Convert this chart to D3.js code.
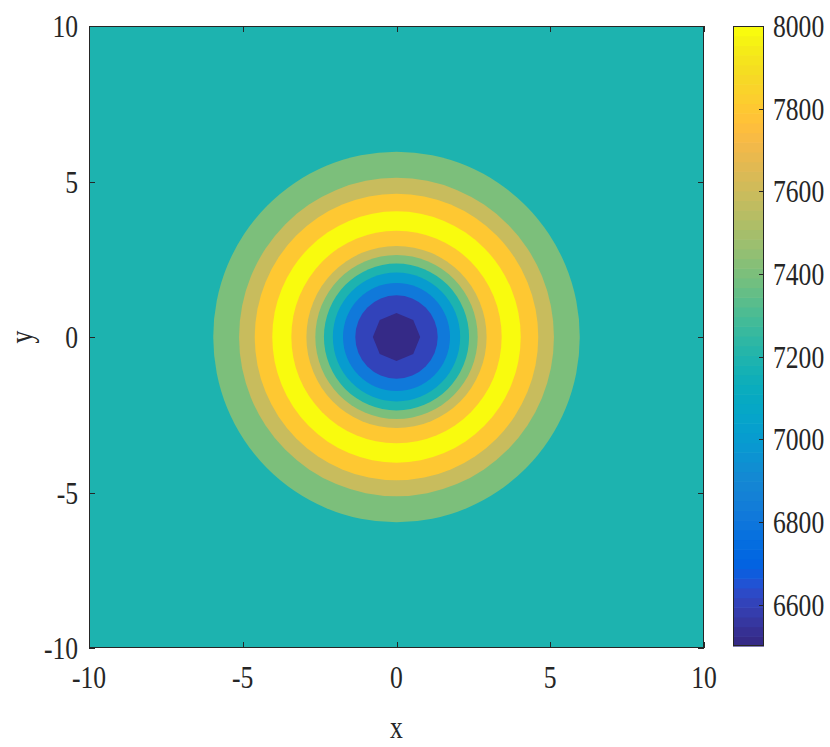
<!DOCTYPE html>
<html>
<head>
<meta charset="utf-8">
<script src="https://cdn.jsdelivr.net/npm/d3@7"></script>
<style>
  html, body { margin: 0; padding: 0; background: #fff; }
  svg { display: block; }
  text { font-family: "Liberation Serif", "Times New Roman", serif; fill: #262626; }
</style>
</head>
<body>
<svg id="chart" width="830" height="747"></svg>
<script>
// ---------------- data ----------------
const xTicks = [-10, -5, 0, 5, 10];
const yTicks = [-10, -5, 0, 5, 10];
const cbTicks = [6600, 6800, 7000, 7200, 7400, 7600, 7800, 8000];
const colorDomain = [6500, 8000];
// value of the flat field outside the rings
const backgroundLevel = 7200;
// filled contour bands, from outside in: outer radius of each band and its level
const bandRadius = [5.96, 5.12, 4.61, 4.04, 3.42, 2.93, 2.64, 2.36, 2.07, 1.74, 1.34, 0.77];
const bandLevel  = [7400, 7600, 7800, 8000, 7800, 7600, 7400, 7200, 7000, 6800, 6600, 6500];

// ---------------- parula colormap (style) ----------------
const parula = [
[0.2081,0.1663,0.5292],[0.2116,0.1898,0.5777],[0.2123,0.2138,0.6270],[0.2081,0.2386,0.6771],
[0.1959,0.2645,0.7279],[0.1707,0.2919,0.7792],[0.1253,0.3242,0.8303],[0.0591,0.3598,0.8683],
[0.0117,0.3875,0.8820],[0.0060,0.4086,0.8828],[0.0165,0.4266,0.8786],[0.0329,0.4430,0.8720],
[0.0498,0.4586,0.8641],[0.0629,0.4737,0.8554],[0.0723,0.4887,0.8467],[0.0779,0.5040,0.8384],
[0.0793,0.5200,0.8312],[0.0749,0.5375,0.8263],[0.0641,0.5570,0.8240],[0.0488,0.5772,0.8228],
[0.0343,0.5966,0.8199],[0.0265,0.6137,0.8135],[0.0239,0.6287,0.8038],[0.0231,0.6418,0.7913],
[0.0228,0.6535,0.7768],[0.0267,0.6642,0.7607],[0.0384,0.6743,0.7436],[0.0590,0.6838,0.7254],
[0.0843,0.6928,0.7062],[0.1133,0.7015,0.6859],[0.1453,0.7098,0.6646],[0.1801,0.7177,0.6424],
[0.2178,0.7250,0.6193],[0.2586,0.7317,0.5954],[0.3022,0.7376,0.5712],[0.3482,0.7424,0.5473],
[0.3953,0.7459,0.5244],[0.4420,0.7481,0.5033],[0.4871,0.7491,0.4840],[0.5300,0.7491,0.4661],
[0.5709,0.7485,0.4494],[0.6099,0.7473,0.4337],[0.6473,0.7456,0.4188],[0.6834,0.7435,0.4044],
[0.7184,0.7411,0.3905],[0.7525,0.7384,0.3768],[0.7858,0.7356,0.3633],[0.8185,0.7327,0.3498],
[0.8507,0.7299,0.3360],[0.8824,0.7274,0.3217],[0.9139,0.7258,0.3063],[0.9450,0.7261,0.2886],
[0.9739,0.7314,0.2666],[0.9938,0.7455,0.2403],[0.9990,0.7653,0.2164],[0.9955,0.7861,0.1967],
[0.9880,0.8066,0.1794],[0.9789,0.8271,0.1633],[0.9697,0.8481,0.1475],[0.9626,0.8705,0.1309],
[0.9589,0.8949,0.1132],[0.9598,0.9218,0.0948],[0.9661,0.9514,0.0755],[0.9763,0.9831,0.0538]
].map(c => d3.rgb(c[0]*255, c[1]*255, c[2]*255).formatHex());
const nC = parula.length;
const colorIndex = d3.scaleLinear().domain(colorDomain).range([0, nC - 1]).clamp(true);
const color = v => parula[Math.round(colorIndex(v))];

// ---------------- layout ----------------
const svg = d3.select("#chart");
const plot = { left: 89, right: 704, top: 26, bottom: 648 };
const cb = { left: 733, right: 764, top: 26, bottom: 646 };
const x = d3.scaleLinear().domain([-10, 10]).range([plot.left, plot.right]);
const y = d3.scaleLinear().domain([-10, 10]).range([plot.bottom, plot.top]);
const axisColor = "#262626";
const fontSize = 32;
const squeeze = 0.8;

// clip
svg.append("defs").append("clipPath").attr("id", "clip")
  .append("rect").attr("x", plot.left).attr("y", plot.top)
  .attr("width", plot.right - plot.left).attr("height", plot.bottom - plot.top);

const g = svg.append("g").attr("clip-path", "url(#clip)");
g.append("rect").attr("x", plot.left).attr("y", plot.top)
  .attr("width", plot.right - plot.left).attr("height", plot.bottom - plot.top)
  .attr("fill", color(backgroundLevel));

const cx = x(0), cy = y(0);
bandRadius.forEach((r, i) => {
  const rx = x(r) - x(0), ry = y(0) - y(r);
  if (i === bandRadius.length - 1) {
    // innermost contour is a coarse polygon
    const pts = d3.range(8).map(k => {
      const a = k * Math.PI / 4;
      return [cx + rx * Math.cos(a), cy - ry * Math.sin(a)];
    });
    g.append("polygon").attr("points", pts.map(p => p.join(",")).join(" "))
      .attr("fill", color(bandLevel[i]));
  } else {
    g.append("ellipse").attr("cx", cx).attr("cy", cy).attr("rx", rx).attr("ry", ry)
      .attr("fill", color(bandLevel[i]));
  }
});

// axes box
svg.append("rect").attr("x", plot.left + 0.5).attr("y", plot.top + 0.5)
  .attr("width", plot.right - plot.left - 1).attr("height", plot.bottom - plot.top - 1)
  .attr("fill", "none").attr("stroke", axisColor).attr("stroke-width", 1);

// ticks (inward) on all four sides
const tl = 6;
const tickG = svg.append("g").attr("stroke", axisColor).attr("stroke-width", 1);
xTicks.forEach(t => {
  const px = Math.round(x(t)) + 0.5;
  tickG.append("line").attr("x1", px).attr("x2", px).attr("y1", plot.bottom).attr("y2", plot.bottom - tl);
  tickG.append("line").attr("x1", px).attr("x2", px).attr("y1", plot.top).attr("y2", plot.top + tl);
});
yTicks.forEach(t => {
  const py = Math.round(y(t)) + 0.5;
  tickG.append("line").attr("x1", plot.left).attr("x2", plot.left + tl).attr("y1", py).attr("y2", py);
  tickG.append("line").attr("x1", plot.right).attr("x2", plot.right - tl).attr("y1", py).attr("y2", py);
});

function label(px, py, txt, anchor, rotate) {
  return svg.append("text")
    .attr("transform", `translate(${px},${py})` + (rotate ? ` rotate(${rotate})` : "") + ` scale(${squeeze},1)`)
    .attr("text-anchor", anchor)
    .attr("dominant-baseline", "central")
    .attr("font-size", fontSize)
    .text(txt);
}

xTicks.forEach(t => label(x(t), plot.bottom + 29, t, "middle"));
yTicks.forEach(t => label(plot.left - 11, y(t), t, "end"));
label(x(0), plot.bottom + 79, "x", "middle");
label(21, y(0), "y", "middle", -90);

// colorbar
const cbScale = d3.scaleLinear().domain(colorDomain).range([cb.bottom, cb.top]);
const stepH = (cb.bottom - cb.top) / nC;
svg.append("g").selectAll("rect").data(parula).join("rect")
  .attr("x", cb.left).attr("width", cb.right - cb.left)
  .attr("y", (d, i) => cb.bottom - (i + 1) * stepH)
  .attr("height", stepH + 0.6)
  .attr("fill", d => d);
svg.append("rect").attr("x", cb.left + 0.5).attr("y", cb.top + 0.5)
  .attr("width", cb.right - cb.left - 1).attr("height", cb.bottom - cb.top - 1)
  .attr("fill", "none").attr("stroke", axisColor).attr("stroke-width", 1);
cbTicks.forEach(t => {
  const py = Math.round(cbScale(t)) + 0.5;
  svg.append("line").attr("x1", cb.right).attr("x2", cb.right - 5)
    .attr("y1", py).attr("y2", py).attr("stroke", axisColor);
  label(cb.right + 9, cbScale(t), t, "start");
});
</script>
</body>
</html>
